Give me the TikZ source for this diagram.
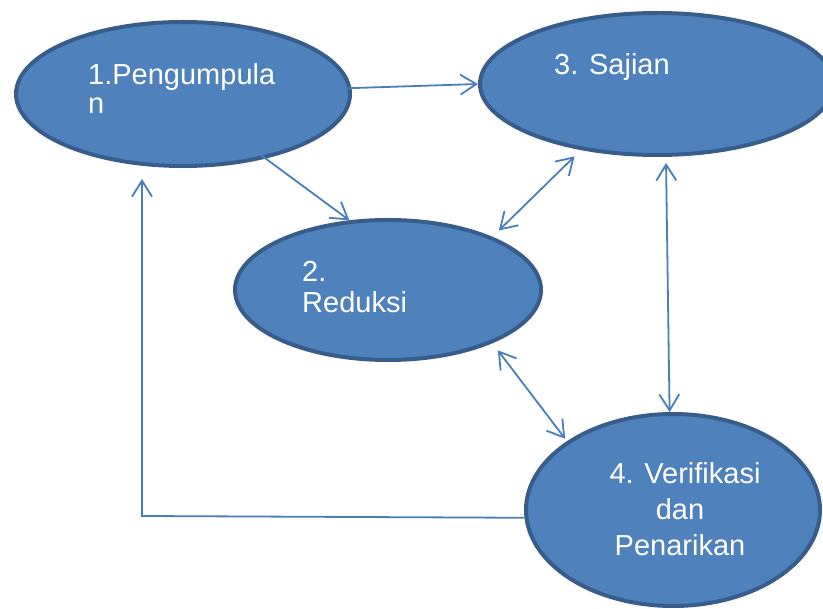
\documentclass[tikz,border=0pt]{standalone}
\usepackage{fontspec}
\setmainfont{Liberation Sans}
\usetikzlibrary{shapes.geometric,arrows.meta}
\definecolor{efill}{HTML}{4F81BD}
\definecolor{eborder}{HTML}{385D8A}
\definecolor{connc}{HTML}{4A7EBB}
\begin{document}
\begin{tikzpicture}[x=1pt,y=-1pt,
  blob/.style={ellipse, draw=eborder, fill=efill, line width=4pt, inner sep=0pt},
  lbl/.style={text=white, font=\fontsize{29}{31}\selectfont, inner sep=0pt, align=left, anchor=base west},
  conn/.style={draw=connc, line width=1.8pt},
  >={Straight Barb[length=16pt,width=20pt]}]
\useasboundingbox (0,0) rectangle (823,609);
\clip (0,0) rectangle (823,609);
\node[blob, minimum width=334pt, minimum height=144pt] (e1) at (183,94) {};
\node[blob, minimum width=354pt, minimum height=142pt] (e3) at (657,84) {};
\node[blob, minimum width=306pt, minimum height=140pt] (e2) at (388,290) {};
\node[blob, minimum width=294pt, minimum height=192pt] (e4) at (673,510) {};
\node[lbl, font=\fontsize{29}{29}\selectfont] (t1) at (88,114) {1.Pengumpula\\n};
\node[lbl] (t3) at (554,75) {3. Sajian};
\node[lbl] (t2) at (302,313) {2.\\Reduksi};
\node[lbl, align=center, anchor=base, font=\fontsize{29}{36}\selectfont] (t4) at (680,556) {\hspace*{10pt}4. Verifikasi\\dan\\Penarikan};
\draw[conn,->, shorten <=-6pt] (e1.2) -- (e3.180);
\draw[conn,->, shorten <=-8pt] (e1.-38) -- (e2.119);
\draw[conn,<->, shorten <=9pt, shorten >=9pt] (e2.27) -- (e3.221);
\draw[conn,<->, shorten <=6pt] (e3.-83) -- (e4.92);
\draw[conn,<->, shorten <=9pt, shorten >=3pt] (e2.-27) -- (e4.147.5);
\coordinate (corner) at (142,516);
\draw[conn,->, shorten >=11pt] (e4.183) -- (corner) -- (corner |- e1.south);
\end{tikzpicture}
\end{document}
